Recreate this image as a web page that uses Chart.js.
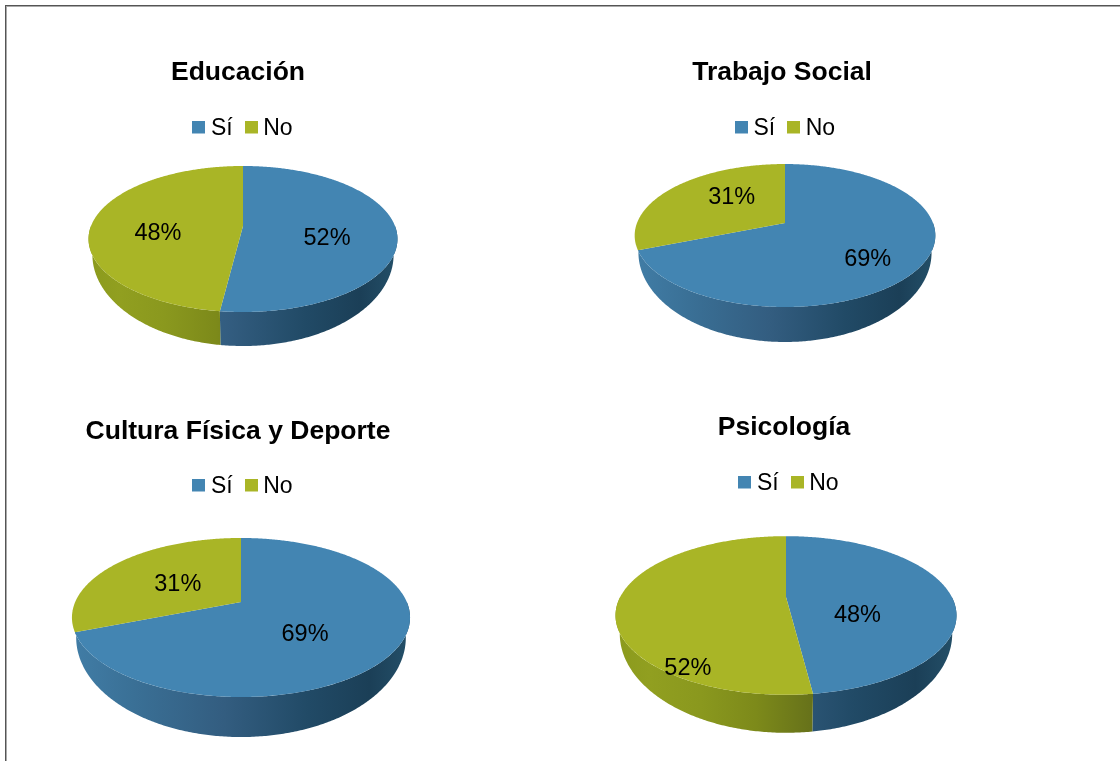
<!DOCTYPE html>
<html lang="es">
<head>
<meta charset="utf-8">
<title>Educación, Trabajo Social, Cultura Física y Deporte, Psicología</title>
<script src="https://cdn.jsdelivr.net/npm/chart.js@4/dist/chart.umd.js"></script>
<style>
html,body{margin:0;padding:0;background:#fff;width:1120px;height:761px;overflow:hidden}
#frame{position:absolute;left:5px;top:5px;width:1200px;height:900px;border:1px solid #555;box-shadow:inset 1px 1px 0 #aaa;box-sizing:border-box}
canvas{position:absolute;filter:blur(0.4px)}
</style>
</head>
<body>
<div id="frame"></div>
<canvas id="c0" style="left:10px;top:30px" width="520" height="340"></canvas>
<canvas id="c1" style="left:550px;top:30px" width="520" height="340"></canvas>
<canvas id="c2" style="left:10px;top:400px" width="520" height="361"></canvas>
<canvas id="c3" style="left:550px;top:400px" width="520" height="361"></canvas>
<script>
const categories = ['Sí', 'No'];
const titles = ['Educación', 'Trabajo Social', 'Cultura Física y Deporte', 'Psicología'];
const educacion = [52, 48];
const trabajoSocial = [69, 31];
const culturaFisica = [69, 31];
const psicologia = [48, 52];
const seriesValues = [educacion, trabajoSocial, culturaFisica, psicologia];
const sliceColors = ['#4385b2', '#a9b526'];

// Page-space layout of each small chart. a,b,k describe the perspective of the tilted disc.
const layouts = [
  {ox:10,  oy:30,  titleX:238, titleY:73,  legendX:245.5, legendY:129, cx:243, cy:226, a:152,   b:70.7, k:0.178, depth:34, lab:[[-7.6,10.3],[5.4,9.7]]},
  {ox:550, oy:30,  titleX:782, titleY:73,  legendX:788,   legendY:129, cx:785, cy:223, a:148,   b:69.3, k:0.175, depth:35, lab:[[4.7,12],[16,-3.3]]},
  {ox:10,  oy:400, titleX:238, titleY:432, legendX:245.5, legendY:487, cx:241, cy:602, a:165.8, b:76.5, k:0.195, depth:40, lab:[[-24,5],[14,7]]},
  {ox:550, oy:400, titleX:784, titleY:428, legendX:791.5, legendY:484, cx:786, cy:597, a:165.8, b:75,   k:0.233, depth:38, lab:[[-27,21.4],[2,68.7]]}
];
const wallStops = [
  [[0,'#417da6'],[0.18,'#3a7096'],[0.45,'#335d80'],[0.7,'#214a66'],[0.88,'#1b3f57'],[1,'#245069']],
  [[0,'#8b9a1d'],[0.1,'#919f20'],[0.25,'#8a981e'],[0.41,'#7d8a1a'],[0.58,'#66711a'],[1,'#5c6712']]
];
const RING_Y = 1.25, RING_X = 0.975;

function project(L, angle, f, sx, sy, drop, px, py) {
  const u = Math.cos(angle) * f, v = Math.sin(angle) * f;
  const d = 1 - L.k * v;
  return [px + sx * L.a * u / d, py + sy * L.b * v / d + drop];
}
function rimPath(ctx, L, a0, a1, sx, sy, drop, px, py, reverse) {
  const n = Math.max(4, Math.ceil(Math.abs(a1 - a0) / 0.01));
  for (let i = 0; i <= n; i++) {
    const t = reverse ? a1 - (a1 - a0) * i / n : a0 + (a1 - a0) * i / n;
    const p = project(L, t, 1, sx, sy, drop, px, py);
    ctx.lineTo(p[0], p[1]);
  }
}

const tiltedPie = {
  id: 'tiltedPie',
  afterLayout(chart) {
    const L = chart.options.plugins.tiltedPie.layout;
    const t = chart.titleBlock, g = chart.legend;
    const tx = L.titleX - L.ox, ty = L.titleY - L.oy, lx = L.legendX - L.ox, ly = L.legendY - L.oy;
    const tf = chart.options.plugins.title.font.size * 1.2;
    t.left = tx - 250; t.right = tx + 250; t.width = 500;
    t.top = ty - tf / 2; t.bottom = ty + tf / 2;
    const ih = chart.options.plugins.legend.labels.font.size;
    g.left = lx - 100; g.right = lx + 100; g.width = 200;
    g.top = ly - ih / 2 - g.options.labels.padding; g.bottom = ly + ih / 2;
  },
  beforeDatasetDraw(chart, args) {
    const L = chart.options.plugins.tiltedPie.layout;
    const ctx = chart.ctx;
    const px = L.cx - L.ox, py = L.cy - L.oy;
    const W = L.a / Math.sqrt(1 - L.k * L.k);
    const drop = L.depth - L.b * (RING_Y - 1) / (1 - L.k);
    const arcs = chart.getDatasetMeta(args.index).data;
    const leftSide = a => a > Math.PI * 0.8 && a < Math.PI;
    ctx.save();
    arcs.forEach((arc, i) => {
      // Only the front half of the rim has a visible wall.
      const front0 = Math.max(arc.startAngle, 0), front1 = Math.min(arc.endAngle, Math.PI);
      if (front0 >= front1 || leftSide(front0)) return;
      const grad = ctx.createLinearGradient(px - W, 0, px + W, 0);
      wallStops[i].forEach(s => grad.addColorStop(s[0], s[1]));
      // A wall that ends just below the left edge wraps round it.
      const ringEnd = leftSide(front1) ? Math.PI : front1;
      ctx.beginPath();
      rimPath(ctx, L, front0, front1, 1, 1, 0, px, py, false);
      rimPath(ctx, L, front0, ringEnd, RING_X, RING_Y, drop, px, py, true);
      ctx.closePath();
      ctx.fillStyle = grad;
      ctx.fill();
    });
    arcs.forEach(arc => {
      ctx.beginPath();
      ctx.moveTo(px, py);
      rimPath(ctx, L, arc.startAngle, arc.endAngle, 1, 1, 0, px, py, false);
      ctx.closePath();
      ctx.fillStyle = arc.options.backgroundColor;
      ctx.fill();
    });
    ctx.restore();
    return false;
  },
  afterDatasetsDraw(chart) {
    const L = chart.options.plugins.tiltedPie.layout;
    const ctx = chart.ctx;
    const px = L.cx - L.ox, py = L.cy - L.oy;
    const data = chart.data.datasets[0].data;
    ctx.save();
    ctx.font = '23.5px "Liberation Sans", Arial, sans-serif';
    ctx.fillStyle = '#000';
    ctx.textAlign = 'center';
    ctx.textBaseline = 'middle';
    chart.getDatasetMeta(0).data.forEach((arc, i) => {
      const mid = (arc.startAngle + arc.endAngle) / 2;
      const p = project(L, mid, 0.6, 1, 1, 0, px, py);
      ctx.fillText(data[i] + '%', p[0] + L.lab[i][0], p[1] + L.lab[i][1]);
    });
    ctx.restore();
  }
};

function swatch(color) {
  const c = document.createElement('canvas');
  c.width = 13; c.height = 17;
  const x = c.getContext('2d');
  x.fillStyle = color;
  x.fillRect(0, 0, 13, 13);
  return c;
}
const swatches = sliceColors.map(swatch);

seriesValues.forEach((values, n) => {
  new Chart(document.getElementById('c' + n), {
    type: 'pie',
    data: {
      labels: categories,
      datasets: [{data: values, backgroundColor: sliceColors, borderWidth: 0}]
    },
    plugins: [tiltedPie],
    options: {
      responsive: false,
      animation: false,
      plugins: {
        tiltedPie: {layout: layouts[n]},
        tooltip: {enabled: false},
        title: {
          display: true, text: titles[n], color: '#000', padding: 0,
          font: {family: '"Liberation Sans", Arial, sans-serif', size: 26.5, weight: 'bold', lineHeight: 1.2}
        },
        legend: {
          display: true, position: 'top',
          labels: {
            color: '#000', padding: 18, boxWidth: 1, boxHeight: 13, usePointStyle: true,
            font: {family: '"Liberation Sans", Arial, sans-serif', size: 23},
            generateLabels: c => c.data.labels.map((t, i) => ({text: t, fillStyle: sliceColors[i], pointStyle: swatches[i], strokeStyle: 'transparent', lineWidth: 0, index: i}))
          }
        }
      }
    }
  });
});
</script>
</body>
</html>
